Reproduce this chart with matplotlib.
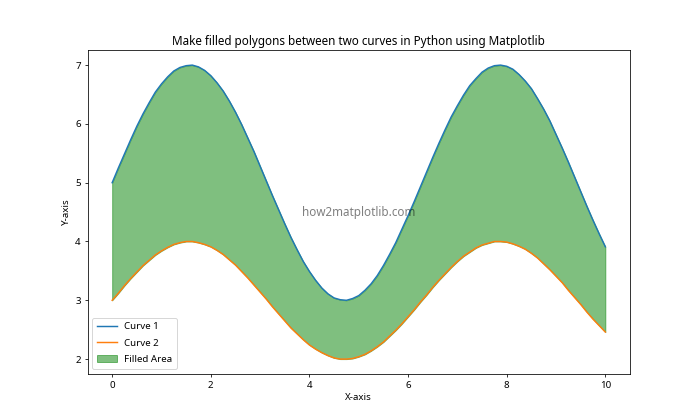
import matplotlib
matplotlib.use("Agg")
import matplotlib.pyplot as plt

plt.rcParams['font.family'] = ['Noto Sans', 'DejaVu Sans']

x = [0.0, 0.125, 0.25, 0.375, 0.5, 0.625, 0.75, 0.875, 1.0, 1.125, 1.25, 1.375, 1.5, 1.625,
     1.75, 1.875, 2.0, 2.125, 2.25, 2.375, 2.5, 2.625, 2.75, 2.875, 3.0, 3.125, 3.25, 3.375,
     3.5, 3.625, 3.75, 3.875, 4.0, 4.125, 4.25, 4.375, 4.5, 4.625, 4.75, 4.875, 5.0, 5.125,
     5.25, 5.375, 5.5, 5.625, 5.75, 5.875, 6.0, 6.125, 6.25, 6.375, 6.5, 6.625, 6.75, 6.875,
     7.0, 7.125, 7.25, 7.375, 7.5, 7.625, 7.75, 7.875, 8.0, 8.125, 8.25, 8.375, 8.5, 8.625,
     8.75, 8.875, 9.0, 9.125, 9.25, 9.375, 9.5, 9.625, 9.75, 9.875, 10.0]
curve1 = [5.00, 5.25, 5.49, 5.73, 5.96, 6.17, 6.36, 6.54, 6.68, 6.80, 6.90, 6.96, 6.99, 7.00,
          6.97, 6.91, 6.82, 6.70, 6.56, 6.39, 6.20, 5.99, 5.76, 5.53, 5.28, 5.03, 4.78, 4.54,
          4.30, 4.07, 3.86, 3.66, 3.49, 3.34, 3.21, 3.11, 3.04, 3.01, 3.00, 3.03, 3.08, 3.17,
          3.28, 3.42, 3.59, 3.78, 3.98, 4.21, 4.44, 4.68, 4.93, 5.18, 5.43, 5.67, 5.90, 6.12,
          6.31, 6.49, 6.65, 6.77, 6.88, 6.95, 6.99, 7.00, 6.98, 6.93, 6.84, 6.73, 6.60, 6.43,
          6.25, 6.05, 5.82, 5.59, 5.35, 5.10, 4.85, 4.60, 4.36, 4.13, 3.91]
curve2 = [3.00, 3.12, 3.25, 3.37, 3.48, 3.59, 3.68, 3.77, 3.84, 3.90, 3.95, 3.98, 4.00, 4.00,
          3.98, 3.95, 3.91, 3.85, 3.78, 3.69, 3.60, 3.49, 3.38, 3.26, 3.14, 3.02, 2.89, 2.77,
          2.65, 2.53, 2.43, 2.33, 2.24, 2.17, 2.11, 2.06, 2.02, 2.00, 2.00, 2.01, 2.04, 2.08,
          2.14, 2.21, 2.29, 2.39, 2.49, 2.60, 2.72, 2.84, 2.97, 3.09, 3.22, 3.34, 3.45, 3.56,
          3.66, 3.75, 3.82, 3.89, 3.94, 3.97, 4.00, 4.00, 3.99, 3.96, 3.92, 3.87, 3.80, 3.72,
          3.62, 3.52, 3.41, 3.30, 3.17, 3.05, 2.93, 2.80, 2.68, 2.57, 2.46]

fig, ax = plt.subplots(figsize=(10, 6), dpi=70)
ax.plot(x, curve1, label='Curve 1')
ax.plot(x, curve2, label='Curve 2')
ax.fill_between(x, curve1, curve2, color='green', alpha=0.5, label='Filled Area')
ax.set_title('Make filled polygons between two curves in Python using Matplotlib')
ax.set_xlabel('X-axis')
ax.set_ylabel('Y-axis')
ax.legend(loc='lower left', labelspacing=0.75, borderpad=0.5)
ax.text(0.5, 0.5, 'how2matplotlib.com', transform=ax.transAxes,
        ha='center', va='center', fontsize=12, alpha=0.5)
fig.savefig('out.png')
